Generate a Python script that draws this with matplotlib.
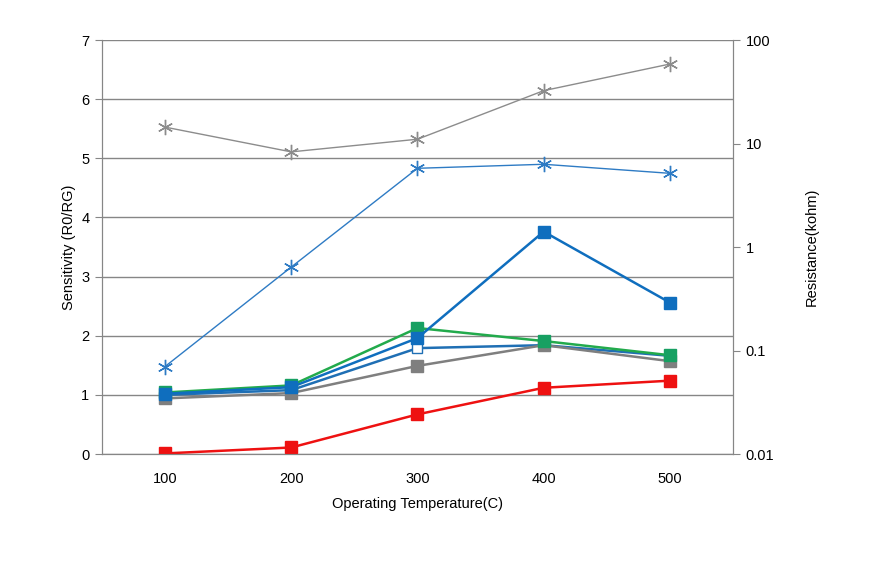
import matplotlib.pyplot as plt
import numpy as np

plt.rcParams['font.family'] = ['Liberation Sans', 'DejaVu Sans']

# categories (operating temperature, C)
temps = ['100', '200', '300', '400', '500']

# sensitivity series (left axis)
sens_red = [0.01, 0.11, 0.67, 1.12, 1.24]
sens_gray = [0.94, 1.03, 1.49, 1.84, 1.57]
sens_blue_open = [1.00, 1.08, 1.79, 1.84, 1.66]
sens_blue = [1.02, 1.13, 1.96, 3.76, 2.56]
sens_green = [1.04, 1.16, 2.13, 1.91, 1.67]

# resistance series (right axis, kohm)
res_gray = [14.4, 8.3, 11.0, 32.4, 58.6]
res_blue = [0.070, 0.64, 5.76, 6.3, 5.15]

grid_c = '#868686'

fig = plt.figure(figsize=(8.71, 5.69), dpi=100)
ax = fig.add_axes([0.117, 0.2021, 0.7246, 0.7276])
ax2 = ax.twinx()

x = np.arange(len(temps))

ax.plot(x, sens_red, color='#EE1111', lw=1.8, marker='s', ms=8, mfc='#EE1111', mec='#EE1111', zorder=5)
ax.plot(x, sens_blue_open, color='#1F6FB4', lw=1.8, marker='s', ms=7, mfc='white', mec='#1F6FB4', zorder=4)
ax.plot(x, sens_gray, color='#7F7F7F', lw=1.8, marker='s', ms=8, mfc='#7F7F7F', mec='#7F7F7F', zorder=5)
ax.plot(x, sens_green, color='#22AA4C', lw=1.8, marker='s', ms=8, mfc='#17A062', mec='#17A062', zorder=6)
ax.plot(x, sens_blue, color='#0F6EBE', lw=1.8, marker='s', ms=8, mfc='#0F6EBE', mec='#0F6EBE', zorder=7)

ax2.plot(x, res_gray, color='#8C8C8C', lw=1.0, marker=(6, 2, 0), ms=11, mec='#8C8C8C', mew=1.0)
ax2.plot(x, res_blue, color='#2E7BC4', lw=1.0, marker=(6, 2, 0), ms=11, mec='#2E7BC4', mew=1.0)

ax.set_xlim(-0.5, len(temps) - 0.5)
ax.set_ylim(0, 7)
ax.set_yticks(range(8))
ax.yaxis.grid(True, color=grid_c, lw=1.0)
ax.set_axisbelow(True)

ax.set_xticks(x)
ax.set_xticklabels(temps)
ax.tick_params(axis='x', which='major', length=0, pad=13, labelsize=10.5)
ax.set_xticks(np.arange(-0.5, len(temps)), minor=True)
ax.tick_params(axis='x', which='minor', length=5, direction='out', color=grid_c)
ax.tick_params(axis='y', length=5, color=grid_c, labelsize=10.5, pad=4)

ax2.set_yscale('log')
ax2.set_ylim(0.01, 100)
ax2.set_yticks([0.01, 0.1, 1, 10, 100])
ax2.set_yticklabels(['0.01', '0.1', '1', '10', '100'])
ax2.minorticks_off()
ax2.tick_params(axis='y', length=5, color=grid_c, labelsize=10.5, pad=4)

for a in (ax, ax2):
    for s in a.spines.values():
        s.set_color(grid_c)
    a.spines['top'].set_visible(False)

ax.set_xlabel('Operating Temperature(C)', fontsize=10.5, labelpad=8)
ax.set_ylabel('Sensitivity (R0/RG)', fontsize=10.5, labelpad=4)
ax2.set_ylabel('Resistance(kohm)', fontsize=10.5, labelpad=22)

fig.savefig('out.png', dpi=100)
